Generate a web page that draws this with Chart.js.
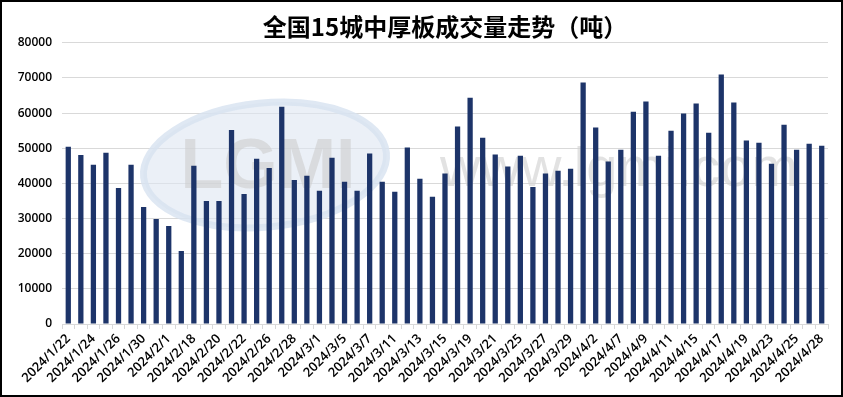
<!DOCTYPE html>
<html>
<head>
<meta charset="utf-8">
<script src="https://cdn.jsdelivr.net/npm/chart.js@4.4.1/dist/chart.umd.min.js"></script>
<style>
html,body{margin:0;padding:0;background:#fff;}
#wrap{position:relative;width:843px;height:397px;}
canvas{display:block;}
</style>
</head>
<body>
<div id="wrap"><canvas id="c" width="843" height="397"></canvas></div>
<script>
const chartTitle = '全国15城中厚板成交量走势（吨）';
const categories = [
  '2024/1/22','2024/1/23','2024/1/24','2024/1/25','2024/1/26','2024/1/29','2024/1/30','2024/1/31','2024/2/1','2024/2/2',
  '2024/2/18','2024/2/19','2024/2/20','2024/2/21','2024/2/22','2024/2/23','2024/2/26','2024/2/27','2024/2/28','2024/2/29',
  '2024/3/1','2024/3/4','2024/3/5','2024/3/6','2024/3/7','2024/3/8','2024/3/11','2024/3/12','2024/3/13','2024/3/14',
  '2024/3/15','2024/3/18','2024/3/19','2024/3/20','2024/3/21','2024/3/22','2024/3/25','2024/3/26','2024/3/27','2024/3/28',
  '2024/3/29','2024/4/1','2024/4/2','2024/4/3','2024/4/7','2024/4/8','2024/4/9','2024/4/10','2024/4/11','2024/4/12',
  '2024/4/15','2024/4/16','2024/4/17','2024/4/18','2024/4/19','2024/4/22','2024/4/23','2024/4/24','2024/4/25','2024/4/26',
  '2024/4/28'
];
const volumes = [
  50400,48100,45300,48700,38700,45300,33300,29900,27900,20800,
  45000,35000,35000,55200,37000,47000,44400,61800,41000,42200,
  37900,47300,40500,37900,48500,40500,37600,50200,41300,36200,
  42800,56200,64400,53000,48200,44800,47900,39000,42800,43600,
  44200,68700,55900,46200,49600,60400,63300,47900,55000,59900,
  62700,54400,71000,63000,52200,51600,45600,56700,49600,51300,
  50700
];
const yTicks = [0,10000,20000,30000,40000,50000,60000,70000,80000];
const watermarkText = 'www.lgmi.com';
const logoText = 'LGMI';

const decor = {
  id: 'decor',
  beforeDatasetsDraw(chart) {
    const ctx = chart.ctx;
    ctx.save();
    ctx.beginPath();
    ctx.ellipse(265, 165, 122, 62, -0.1, 0, Math.PI * 2);
    ctx.fillStyle = 'rgba(222,230,242,0.6)';
    ctx.fill();
    ctx.lineWidth = 7;
    ctx.strokeStyle = 'rgba(215,226,240,0.8)';
    ctx.stroke();
    ctx.font = 'bold 70px "Liberation Sans"';
    ctx.fillStyle = 'rgba(205,205,205,0.6)';
    ctx.textAlign = 'center';
    ctx.textBaseline = 'alphabetic';
    ctx.fillText(logoText, 268, 188);
    ctx.font = '56px "Liberation Sans"';
    ctx.fillStyle = 'rgba(210,210,210,0.65)';
    ctx.textAlign = 'left';
    ctx.fillText(watermarkText, 440, 186);
    ctx.restore();
  },
  afterDraw(chart) {
    const ctx = chart.ctx;
    ctx.save();
    ctx.strokeStyle = '#000';
    ctx.lineWidth = 2;
    ctx.strokeRect(1, 1, chart.width - 2, chart.height - 2);
    ctx.restore();
  }
};

new Chart(document.getElementById('c'), {
  type: 'bar',
  data: {
    labels: categories,
    datasets: [{
      data: volumes,
      backgroundColor: '#1d3469',
      barPercentage: 0.42,
      categoryPercentage: 1.0
    }]
  },
  options: {
    responsive: false,
    animation: false,
    layout: { padding: { left: 0, right: 15, top: 10, bottom: 4 } },
    plugins: {
      legend: { display: false },
      tooltip: { enabled: false },
      title: {
        display: true,
        text: chartTitle,
        fullSize: false,
        color: '#000',
        font: { family: '"Noto Sans CJK SC"', size: 24, weight: 'bold' },
        padding: { top: 2, bottom: 2 }
      }
    },
    scales: {
      x: {
        afterFit(scale) { scale.paddingLeft = 0; scale.paddingRight = 0; scale.height = 69; },
        grid: { display: true, drawOnChartArea: false, drawTicks: true, tickLength: 5, color: '#d9d9d9', offset: true },
        border: { display: true, color: '#d9d9d9', width: 1 },
        ticks: {
          autoSkip: false,
          minRotation: 45,
          maxRotation: 45,
          color: '#000',
          padding: 2,
          font: { family: '"Open Sans"', size: 13, weight: '600' },
          callback: function(v, i) { return i % 2 === 0 ? this.getLabelForValue(v) : ''; }
        }
      },
      y: {
        min: 0,
        max: 80000,
        afterBuildTicks(scale) { scale.ticks = yTicks.map(v => ({ value: v })); },
        afterFit(scale) { scale.width = 62; },
        grid: { color: '#d9d9d9', drawTicks: false },
        border: { display: false },
        ticks: {
          color: '#000',
          padding: 10,
          font: { family: '"Open Sans"', size: 12, weight: '600' },
          callback: (v) => String(v)
        }
      }
    }
  },
  plugins: [decor]
});
</script>
</body>
</html>
